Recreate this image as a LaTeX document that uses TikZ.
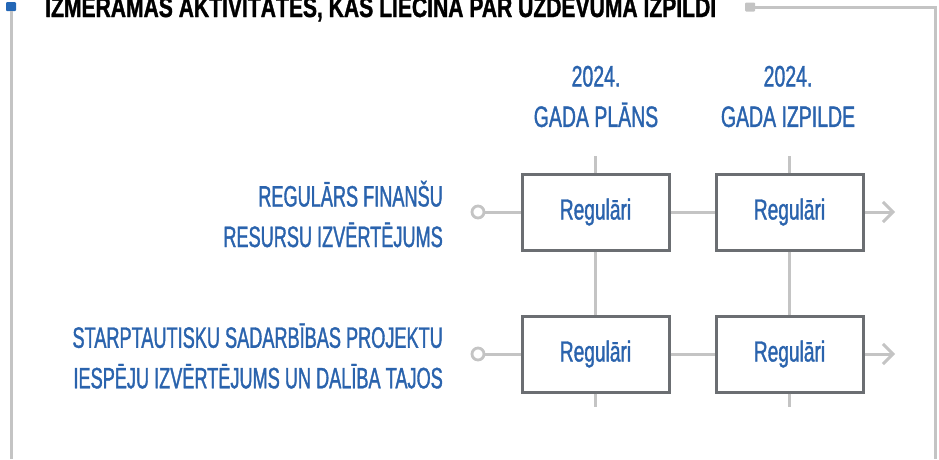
\documentclass[tikz,border=0pt]{standalone}
\usepackage{fontspec}
\setmainfont{Liberation Sans}[FakeStretch=0.66, FakeBold=1.2]
\newfontfamily\rowfont{Liberation Sans}[FakeStretch=0.615, FakeBold=1.2]
\newfontfamily\titlefont{Liberation Sans}[FakeStretch=0.74, FakeBold=1.2]
\usetikzlibrary{arrows.meta, positioning}

\definecolor{textblue}{HTML}{2A63AD}
\definecolor{boxgray}{HTML}{6B6E72}
\definecolor{linegray}{HTML}{C4C4C4}
\definecolor{markblue}{HTML}{2467B6}

\begin{document}
\begin{tikzpicture}[x=1pt, y=-1pt,
  tasktext/.style={text=textblue, inner sep=0pt, font=\fontsize{29.5}{40.5}\selectfont},
  valbox/.style={draw=boxgray, line width=3pt, fill=white, minimum width=147pt,
    minimum height=76pt, text=textblue, font=\fontsize{29}{34}\selectfont},
  gline/.style={draw=linegray, line width=3pt},
  endarrow/.style={gline, -{Straight Barb[length=10pt, width=20pt]}},
  startdot/.style={circle, draw=linegray, line width=2.8pt, fill=white, inner sep=0pt, minimum size=12pt},
  cornermark/.style={inner sep=0pt, minimum width=10pt, minimum height=9pt, rounded corners=1pt}]
  \useasboundingbox (0,0) rectangle (939,459);

  % Frame
  \node[cornermark, fill=markblue] (mark1) at (11,6.5) {};
  \node[cornermark, fill=linegray] (mark2) at (750,7) {};
  \coordinate (frameL) at (11,459);
  \coordinate (corner) at (935,7);
  \coordinate (frameR) at (935,459);
  \draw[gline] (mark1) -- (frameL);
  \draw[gline] (mark2) -- (corner) -- (frameR);

  % Title
  \node[anchor=base west, inner sep=0pt, font=\fontsize{28.5}{30}\selectfont\titlefont\bfseries] (title) at (45,17)
    {IZMĒRAMAS AKTIVITĀTES, KAS LIECINA PAR UZDEVUMA IZPILDI};

  % Column heads
  \node[tasktext, align=center] (head1) at (596,96.5) {2024.\\GADA PLĀNS};
  \node[tasktext, align=center] (head2) at (788,96.5) {2024.\\GADA IZPILDE};

  % Row labels
  \node[tasktext, font=\fontsize{29.5}{40.5}\selectfont\rowfont, align=right, anchor=east] (task1) at (443,214) {REGULĀRS FINANŠU\\RESURSU IZVĒRTĒJUMS};
  \node[tasktext, font=\fontsize{29.5}{40.5}\selectfont\rowfont, align=right, anchor=east] (task2) at (443,356) {STARPTAUTISKU SADARBĪBAS PROJEKTU\\IESPĒJU IZVĒRTĒJUMS UN DALĪBA TAJOS};

  % Boxes and row lines
  \foreach \r/\y in {1/212, 2/354} {
    \node[startdot] (start\r) at (478,\y) {};
    \node[valbox] (plan\r) at (595.5,\y) {Regulāri};
    \node[valbox] (done\r) at (789.5,\y) {Regulāri};
    \coordinate (end\r) at (895,\y);
    \draw[gline] (start\r) -- (plan\r) -- (done\r);
    \draw[endarrow] (done\r) -- (end\r);
  }

  % Column lines
  \coordinate (top1) at (595.5,156);
  \coordinate (bot1) at (595.5,407);
  \coordinate (top2) at (789.5,156);
  \coordinate (bot2) at (789.5,407);
  \draw[gline] (top1) -- (plan1) (plan1) -- (plan2) (plan2) -- (bot1);
  \draw[gline] (top2) -- (done1) (done1) -- (done2) (done2) -- (bot2);
\end{tikzpicture}
\end{document}
